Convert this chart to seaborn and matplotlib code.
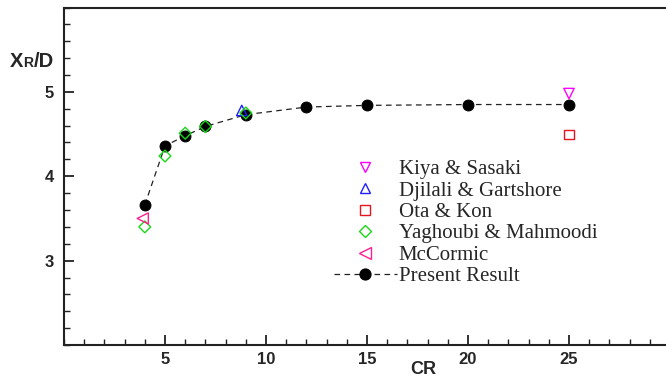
import numpy as np
import pandas as pd
import matplotlib
matplotlib.use("Agg")
import matplotlib.pyplot as plt
from matplotlib.ticker import MultipleLocator, FixedLocator
from matplotlib.lines import Line2D
import seaborn as sns

# Reattachment length X_R/D versus contraction ratio CR
present_cr = [4, 5, 6, 7, 9, 12, 15, 20, 25]
present_xr = [3.66, 4.36, 4.48, 4.59, 4.73, 4.82, 4.84, 4.85, 4.85]

kiya_cr = [25]
kiya_xr = [4.98]

djilali_cr = [8.8]
djilali_xr = [4.78]

ota_cr = [25]
ota_xr = [4.50]

yaghoubi_cr = [4, 5, 6, 7, 9]
yaghoubi_xr = [3.40, 4.24, 4.51, 4.59, 4.75]

mccormic_cr = [3.9]
mccormic_xr = [3.50]

series_names = ["Kiya & Sasaki", "Djilali & Gartshore", "Ota & Kon",
                "Yaghoubi & Mahmoodi", "McCormic"]
series_cr = [kiya_cr, djilali_cr, ota_cr, yaghoubi_cr, mccormic_cr]
series_xr = [kiya_xr, djilali_xr, ota_xr, yaghoubi_xr, mccormic_xr]
series_marker = ["v", "^", "s", "D", "<"]
series_color = ["#ff00ff", "#2020ff", "#e8141e", "#18d818", "#ff1f8f"]
series_size = [7.5, 7.5, 6.5, 6.0, 8.0]

sns.set_theme(style="ticks")
plt.rcParams["font.family"] = ["Liberation Sans", "DejaVu Sans"]

W, H = 666, 378
fig = plt.figure(figsize=(W / 100, H / 100), dpi=100)
ax_l, ax_r, ax_t, ax_b = 64, 670, 7.5, 345
ax = fig.add_axes([ax_l / W, 1 - ax_b / H, (ax_r - ax_l) / W, (ax_b - ax_t) / H])

present_df = pd.DataFrame({"CR": present_cr, "XR": present_xr})
sns.lineplot(data=present_df, x="CR", y="XR", ax=ax, color="#222222",
             linewidth=0.9, dashes=(4.5, 3.5), marker="o", markersize=7.8,
             markerfacecolor="black", markeredgecolor="black", zorder=3)

for name, xs, ys, m, c, s in zip(series_names, series_cr, series_xr,
                                 series_marker, series_color, series_size):
    df = pd.DataFrame({"CR": xs, "XR": ys})
    sns.scatterplot(data=df, x="CR", y="XR", ax=ax, marker=m, s=s ** 2,
                    facecolors="none", edgecolor=c, linewidth=1.0, zorder=4)

ax.set_xlim(0, 30)
ax.set_ylim(2, 6)
ax.xaxis.set_major_locator(FixedLocator([5, 10, 15, 20, 25]))
ax.xaxis.set_minor_locator(MultipleLocator(1))
ax.yaxis.set_major_locator(FixedLocator([3, 4, 5]))
ax.yaxis.set_minor_locator(MultipleLocator(0.2))

ax.tick_params(axis="both", which="both", direction="in", color="#222222")
ax.tick_params(axis="both", which="major", length=7, width=1.3,
               labelsize=12, pad=5)
ax.tick_params(axis="both", which="minor", length=4.5, width=1.0)
ax.tick_params(axis="y", which="major", pad=7)
for lab in ax.get_xticklabels() + ax.get_yticklabels():
    lab.set_fontweight("bold")

for side in ("left", "bottom", "top"):
    ax.spines[side].set_linewidth(1.5)
    ax.spines[side].set_color("#222222")
ax.spines["right"].set_visible(False)

ax.set_xlabel("CR", fontsize=13, fontweight="bold")
ax.xaxis.set_label_coords((423 - ax_l) / (ax_r - ax_l), -(374 - ax_b) / (ax_b - ax_t))
ax.xaxis.label.set_va("baseline")
ax.set_ylabel("")

# Y axis title X_R/D with a small-capital R
t1 = fig.text(10 / W, 1 - 67 / H, "X", fontsize=14.5, fontweight="bold",
              va="baseline", ha="left")
t2 = fig.text(0, 0, "R", fontsize=10, fontweight="bold", va="baseline",
              ha="left")
t3 = fig.text(0, 0, "/D", fontsize=14.5, fontweight="bold", va="baseline",
              ha="left")
fig.canvas.draw()
r = fig.canvas.get_renderer()
bb1 = t1.get_window_extent(r)
t2.set_position(((bb1.x1 + 0.2) / W, 1 - 67 / H))
fig.canvas.draw()
bb2 = t2.get_window_extent(r)
t3.set_position(((bb2.x1 + 0.2) / W, 1 - 67 / H))

# Legend
handles = []
for name, m, c, s in zip(series_names, series_marker, series_color, series_size):
    handles.append(Line2D([], [], linestyle="none", marker=m, markersize=s,
                          markerfacecolor="none", markeredgecolor=c,
                          markeredgewidth=1.0))
handles.append(Line2D([], [], color="#222222", linewidth=0.9,
                      dashes=(4.5, 3.5), marker="o", markersize=7.8,
                      markerfacecolor="black", markeredgecolor="black"))
labels = series_names + ["Present Result"]
leg = ax.legend(handles, labels, loc="upper left",
                bbox_to_anchor=((334 - ax_l) / (ax_r - ax_l),
                                1 - (159.5 - ax_t) / (ax_b - ax_t)),
                frameon=False, borderpad=0, borderaxespad=0,
                handlelength=3.0, handletextpad=0.1, labelspacing=0.09,
                prop={"family": "Liberation Serif", "size": 15})

fig.savefig("out.png", dpi=100)
